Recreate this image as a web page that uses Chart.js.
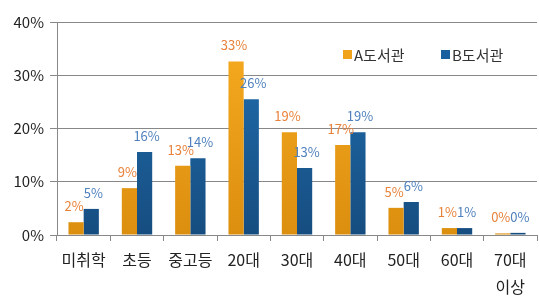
<!DOCTYPE html>
<html>
<head>
<meta charset="utf-8">
<script src="https://cdn.jsdelivr.net/npm/chart.js@4"></script>
<style>
  html, body { margin: 0; padding: 0; background: #fff; }
  #wrap { width: 539px; height: 299px; }
</style>
</head>
<body>
<div id="wrap"><canvas id="grafico"></canvas></div>
<script>
const categorias = ['미취학', '초등', '중고등', '20대', '30대', '40대', '50대', '60대', ['70대', '이상']]
const biblioteca_a = [2.4, 8.8, 13.0, 32.6, 19.3, 16.9, 5.1, 1.3, 0.3]
const biblioteca_b = [4.9, 15.6, 14.4, 25.5, 12.6, 19.3, 6.2, 1.3, 0.4]
const etiquetas_a = ['2%', '9%', '13%', '33%', '19%', '17%', '5%', '1%', '0%']
const etiquetas_b = ['5%', '16%', '14%', '26%', '13%', '19%', '6%', '1%', '0%']
const nombres = ['A도서관', 'B도서관']

const fuente = '"Noto Sans CJK KR", "Noto Sans", sans-serif'

// degradado vertical para cada serie
function degradado(ctx, arriba, abajo) {
    const area = ctx.chart.chartArea
    if (!area) return arriba
    const g = ctx.chart.ctx.createLinearGradient(0, area.top, 0, area.bottom)
    g.addColorStop(0, arriba)
    g.addColorStop(1, abajo)
    return g
}

const colorLabelA = '#E8823A'
const colorLabelB = '#4F81BD'

// etiquetas de valor encima de cada barra
const etiquetasPlugin = {
    id: 'etiquetas',
    afterDatasetsDraw(chart) {
        const ctx = chart.ctx
        ctx.save()
        ctx.font = '13px ' + fuente
        ctx.textAlign = 'center'
        ctx.textBaseline = 'middle'
        const textos = [etiquetas_a, etiquetas_b]
        const colores = [colorLabelA, colorLabelB]
        chart.data.datasets.forEach((ds, i) => {
            chart.getDatasetMeta(i).data.forEach((bar, j) => {
                ctx.fillStyle = colores[i]
                ctx.fillText(textos[i][j], bar.x + (i === 0 ? -2 : 2), bar.y - 16)
            })
        })
        ctx.restore()
    }
}

// leyenda dentro del área del gráfico
const leyendaPlugin = {
    id: 'leyenda',
    afterDraw(chart) {
        const ctx = chart.ctx
        ctx.save()
        ctx.font = '15px ' + fuente
        ctx.textBaseline = 'middle'
        const items = [
            { x: 343, color: '#F0A21A', texto: nombres[0] },
            { x: 441, color: '#1A5F9E', texto: nombres[1] }
        ]
        items.forEach(it => {
            ctx.fillStyle = it.color
            ctx.fillRect(it.x, 50, 9, 9)
            ctx.fillStyle = '#333'
            ctx.fillText(it.texto, it.x + 11, 55)
        })
        ctx.restore()
    }
}

const grafico = document.getElementById('grafico').getContext('2d')

new Chart(grafico, {
    type: 'bar',
    data: {
        labels: categorias,
        datasets: [{
            label: nombres[0],
            data: biblioteca_a,
            backgroundColor: ctx => degradado(ctx, '#F8AD22', '#DC8E0E'),
            borderWidth: 0
        }, {
            label: nombres[1],
            data: biblioteca_b,
            backgroundColor: ctx => degradado(ctx, '#2272B4', '#164D80'),
            borderWidth: 0
        }]
    },
    plugins: [etiquetasPlugin, leyendaPlugin],
    options: {
        responsive: true,
        maintainAspectRatio: false,
        animation: false,
        layout: {
            padding: { top: 22, right: 2, left: 0, bottom: 0 }
        },
        datasets: {
            bar: {
                categoryPercentage: 0.57,
                barPercentage: 1.0
            }
        },
        scales: {
            x: {
                offset: true,
                grid: {
                    display: true,
                    offset: true,
                    drawOnChartArea: false,
                    tickLength: 6,
                    color: '#888'
                },
                border: { color: '#888' },
                ticks: {
                    color: '#222',
                    font: { family: fuente, size: 16, lineHeight: 1.7 },
                    padding: 5,
                    maxRotation: 0,
                    autoSkip: false
                },
                afterFit(scale) { scale.height = 64 }
            },
            y: {
                min: 0,
                max: 40,
                ticks: {
                    stepSize: 10,
                    color: '#222',
                    padding: 6,
                    font: { family: fuente, size: 15 },
                    callback: v => v + '%'
                },
                grid: {
                    color: '#888',
                    tickLength: 7
                },
                border: { color: '#888' },
                afterFit(scale) { scale.width = 57 }
            }
        },
        plugins: {
            legend: { display: false },
            tooltip: { enabled: false }
        }
    }
});
</script>
</body>
</html>
